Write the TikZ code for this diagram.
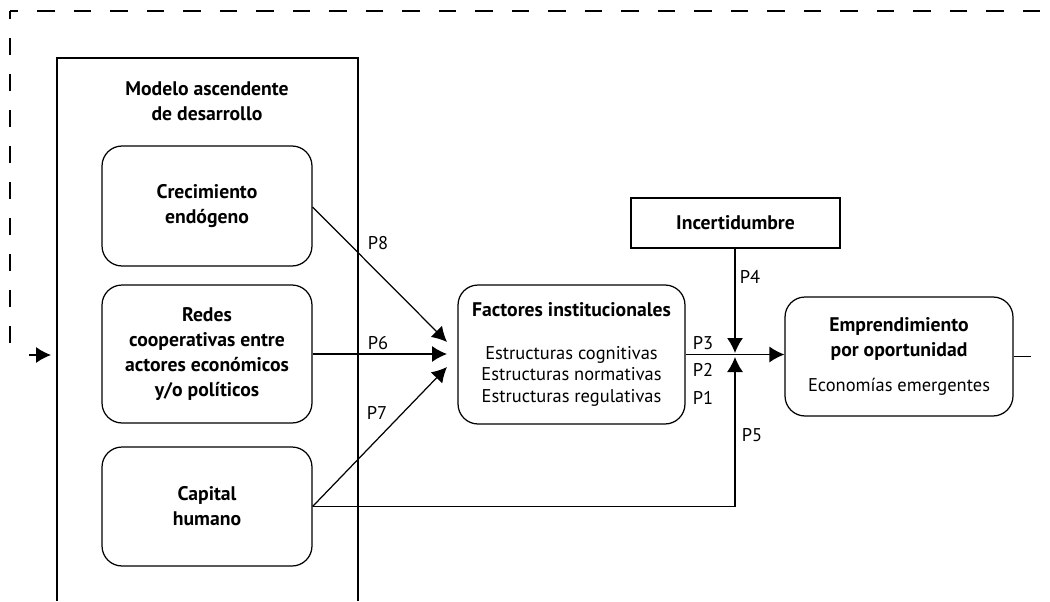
\documentclass[tikz,border=0pt]{standalone}
\usepackage{fontspec}
\setmainfont{PT Sans}
\usetikzlibrary{arrows.meta}

\newcommand{\hd}[1]{{\fontsize{11.2}{14.2}\selectfont\bfseries #1}}

\tikzset{
    rbox/.style={draw, line width=0.7pt, rounded corners=0.4cm, align=center,
        minimum width=4.2cm, font=\fontsize{10.5}{14.2}\selectfont},
    sbox/.style={draw, line width=0.7pt, align=center, font=\fontsize{10.5}{14.2}\selectfont},
    conn/.style={line width=0.7pt, -{Latex[length=0.3cm,width=0.32cm]}},
    link/.style={line width=0.7pt},
    plab/.style={font=\fontsize{10.5}{12}\selectfont, inner sep=0pt}
}

\begin{document}
\begin{tikzpicture}[x=0.02cm, y=-0.02cm]
        \useasboundingbox (0,0) rectangle (1050,601);

        % --- Dashed frame ---
        \draw[line width=0.7pt, dash pattern=on 0.35cm off 0.37cm, dash phase=0.18cm] (10,11) -- (10,356);
        \draw[line width=0.7pt, dash pattern=on 0.35cm off 0.38cm, dash phase=0.18cm] (10,11) -- (1050,11);

        % --- Bottom-up model (open frame) ---
        \draw[link] (57,601) -- (57,58) -- (358,58) -- (358,601);
        \node[align=center, font=\fontsize{10.5}{14.2}\selectfont] (modelo) at (207,101)
            {\hd{Modelo ascendente}\\\hd{de desarrollo}};

        \node[rbox, minimum height=2.4cm] (crec) at (207,206) {\hd{Crecimiento}\\\hd{endógeno}};
        \node[rbox, minimum height=2.76cm] (redes) at (207,354)
            {\hd{Redes}\\\hd{cooperativas entre}\\\hd{actores económicos}\\\hd{y/o políticos}};
        \node[rbox, minimum height=2.38cm] (cap) at (207,506.5) {\hd{Capital}\\\hd{humano}};

        % --- Institutional factors, uncertainty, outcome ---
        \node[rbox, minimum width=4.54cm, minimum height=2.78cm, font=\fontsize{10.5}{12.3}\selectfont] (fact) at (571.5,354.5)
            {\hd{Factores institucionales}\\[12pt]Estructuras cognitivas\\Estructuras normativas\\Estructuras regulativas};
        \node[sbox, minimum width=4.18cm, minimum height=1cm] (incert) at (735.5,223) {\hd{Incertidumbre}};
        \node[rbox, minimum width=4.56cm, minimum height=2.38cm] (empr) at (899,356.5)
            {\hd{Emprendimiento}\\\hd{por oportunidad}\\[6pt]Economías emergentes};

        % --- Free ends ---
        \coordinate (entry) at (29,355);
        \coordinate (entryend) at (51,355);
        \coordinate (f8) at (447,342);
        \coordinate (f6) at (447,354);
        \coordinate (f7) at (447,367);
        \coordinate (jdown) at (735,353);
        \coordinate (jup) at (735,357);
        \coordinate (exit) at (1031,356.5);

        % --- Connectors ---
        \draw[conn] (entry) -- (entryend);
        \draw[conn] (crec.east |- 0,207) -- (f8);
        \draw[conn] (redes.east) -- (f6);
        \draw[conn] (cap.east) -- (f7);
        \draw[conn] (cap.east) -- (jup |- cap.east) -- (jup);
        \draw[conn] (incert.south -| jdown) -- (jdown);
        \draw[conn] (fact.east) -- (fact.east -| empr.west);
        \draw[link] (empr.east) -- (exit);

        % --- Proposition labels ---
        \foreach \n/\x/\y in {8/378/243, 6/378/343, 7/377/413, 4/750/277, 3/703/343, 2/703/370, 1/703/398, 5/752/435}
            \node[plab] (p\n) at (\x,\y) {P\n};
\end{tikzpicture}
\end{document}
